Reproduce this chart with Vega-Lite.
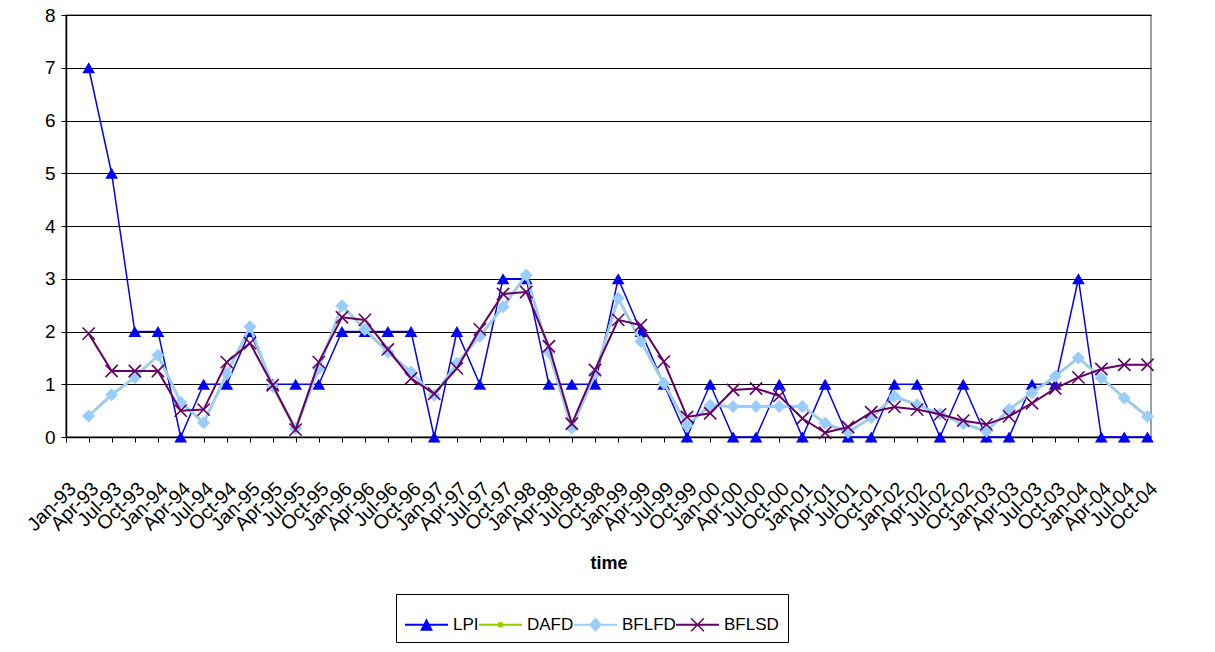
{
  "$schema": "https://vega.github.io/schema/vega-lite/v6.json",
  "width": 1085,
  "height": 422,
  "autosize": {"type": "none"},
  "padding": {"left": 66, "top": 15, "right": 64, "bottom": 215},
  "background": "white",
  "config": {
    "font": "Liberation Sans, Arial, sans-serif",
    "view": {"stroke": "#808080", "strokeWidth": 1.5},
    "axis": {
      "labelColor": "black",
      "titleColor": "black",
      "domainColor": "black",
      "tickColor": "black",
      "labelFont": "Liberation Sans, Arial, sans-serif",
      "titleFont": "Liberation Sans, Arial, sans-serif",
      "labelFontSize": 18
    }
  },
  "data": {
    "values": [
      {"time": "1993-04-01", "LPI": 7, "DAFD": 0.40, "BFLFD": 0.40, "BFLSD": 1.96},
      {"time": "1993-07-01", "LPI": 5, "DAFD": 0.80, "BFLFD": 0.80, "BFLSD": 1.25},
      {"time": "1993-10-01", "LPI": 2, "DAFD": 1.13, "BFLFD": 1.13, "BFLSD": 1.25},
      {"time": "1994-01-01", "LPI": 2, "DAFD": 1.55, "BFLFD": 1.55, "BFLSD": 1.25},
      {"time": "1994-04-01", "LPI": 0, "DAFD": 0.66, "BFLFD": 0.66, "BFLSD": 0.50},
      {"time": "1994-07-01", "LPI": 1, "DAFD": 0.27, "BFLFD": 0.27, "BFLSD": 0.52},
      {"time": "1994-10-01", "LPI": 1, "DAFD": 1.20, "BFLFD": 1.20, "BFLSD": 1.42},
      {"time": "1995-01-01", "LPI": 2, "DAFD": 2.09, "BFLFD": 2.09, "BFLSD": 1.78},
      {"time": "1995-04-01", "LPI": 1, "DAFD": 0.96, "BFLFD": 0.96, "BFLSD": 0.98},
      {"time": "1995-07-01", "LPI": 1, "DAFD": 0.16, "BFLFD": 0.16, "BFLSD": 0.14},
      {"time": "1995-10-01", "LPI": 1, "DAFD": 1.30, "BFLFD": 1.30, "BFLSD": 1.42},
      {"time": "1996-01-01", "LPI": 2, "DAFD": 2.49, "BFLFD": 2.49, "BFLSD": 2.27},
      {"time": "1996-04-01", "LPI": 2, "DAFD": 2.04, "BFLFD": 2.04, "BFLSD": 2.22},
      {"time": "1996-07-01", "LPI": 2, "DAFD": 1.61, "BFLFD": 1.61, "BFLSD": 1.66},
      {"time": "1996-10-01", "LPI": 2, "DAFD": 1.23, "BFLFD": 1.23, "BFLSD": 1.11},
      {"time": "1997-01-01", "LPI": 0, "DAFD": 0.79, "BFLFD": 0.79, "BFLSD": 0.82},
      {"time": "1997-04-01", "LPI": 2, "DAFD": 1.40, "BFLFD": 1.40, "BFLSD": 1.30},
      {"time": "1997-07-01", "LPI": 1, "DAFD": 1.91, "BFLFD": 1.91, "BFLSD": 2.04},
      {"time": "1997-10-01", "LPI": 3, "DAFD": 2.47, "BFLFD": 2.47, "BFLSD": 2.71},
      {"time": "1998-01-01", "LPI": 3, "DAFD": 3.07, "BFLFD": 3.07, "BFLSD": 2.75},
      {"time": "1998-04-01", "LPI": 1, "DAFD": 1.61, "BFLFD": 1.61, "BFLSD": 1.72},
      {"time": "1998-07-01", "LPI": 1, "DAFD": 0.17, "BFLFD": 0.17, "BFLSD": 0.25},
      {"time": "1998-10-01", "LPI": 1, "DAFD": 1.20, "BFLFD": 1.20, "BFLSD": 1.27},
      {"time": "1999-01-01", "LPI": 3, "DAFD": 2.63, "BFLFD": 2.63, "BFLSD": 2.22},
      {"time": "1999-04-01", "LPI": 2, "DAFD": 1.81, "BFLFD": 1.81, "BFLSD": 2.12},
      {"time": "1999-07-01", "LPI": 1, "DAFD": 1.02, "BFLFD": 1.02, "BFLSD": 1.43},
      {"time": "1999-10-01", "LPI": 0, "DAFD": 0.22, "BFLFD": 0.22, "BFLSD": 0.38},
      {"time": "2000-01-01", "LPI": 1, "DAFD": 0.60, "BFLFD": 0.60, "BFLSD": 0.45},
      {"time": "2000-04-01", "LPI": 0, "DAFD": 0.58, "BFLFD": 0.58, "BFLSD": 0.89},
      {"time": "2000-07-01", "LPI": 0, "DAFD": 0.58, "BFLFD": 0.58, "BFLSD": 0.92},
      {"time": "2000-10-01", "LPI": 1, "DAFD": 0.58, "BFLFD": 0.58, "BFLSD": 0.78},
      {"time": "2001-01-01", "LPI": 0, "DAFD": 0.58, "BFLFD": 0.58, "BFLSD": 0.35},
      {"time": "2001-04-01", "LPI": 1, "DAFD": 0.26, "BFLFD": 0.26, "BFLSD": 0.08},
      {"time": "2001-07-01", "LPI": 0, "DAFD": 0.09, "BFLFD": 0.09, "BFLSD": 0.19},
      {"time": "2001-10-01", "LPI": 0, "DAFD": 0.37, "BFLFD": 0.37, "BFLSD": 0.47},
      {"time": "2002-01-01", "LPI": 1, "DAFD": 0.77, "BFLFD": 0.77, "BFLSD": 0.57},
      {"time": "2002-04-01", "LPI": 1, "DAFD": 0.61, "BFLFD": 0.61, "BFLSD": 0.52},
      {"time": "2002-07-01", "LPI": 0, "DAFD": 0.44, "BFLFD": 0.44, "BFLSD": 0.43},
      {"time": "2002-10-01", "LPI": 1, "DAFD": 0.25, "BFLFD": 0.25, "BFLSD": 0.31},
      {"time": "2003-01-01", "LPI": 0, "DAFD": 0.11, "BFLFD": 0.11, "BFLSD": 0.24},
      {"time": "2003-04-01", "LPI": 0, "DAFD": 0.52, "BFLFD": 0.52, "BFLSD": 0.39},
      {"time": "2003-07-01", "LPI": 1, "DAFD": 0.84, "BFLFD": 0.84, "BFLSD": 0.64},
      {"time": "2003-10-01", "LPI": 1, "DAFD": 1.15, "BFLFD": 1.15, "BFLSD": 0.92},
      {"time": "2004-01-01", "LPI": 3, "DAFD": 1.50, "BFLFD": 1.50, "BFLSD": 1.13},
      {"time": "2004-04-01", "LPI": 0, "DAFD": 1.12, "BFLFD": 1.12, "BFLSD": 1.29},
      {"time": "2004-07-01", "LPI": 0, "DAFD": 0.74, "BFLFD": 0.74, "BFLSD": 1.37},
      {"time": "2004-10-01", "LPI": 0, "DAFD": 0.39, "BFLFD": 0.39, "BFLSD": 1.37}
    ]
  },
  "transform": [{"fold": ["LPI", "DAFD", "BFLFD", "BFLSD"], "as": ["series", "value"]}],
  "encoding": {
    "x": {
      "field": "time",
      "type": "temporal",
      "scale": {
        "type": "utc",
        "domain": [
          {"year": 1993, "month": 1, "date": 1, "utc": true},
          {"year": 2004, "month": 10, "date": 15, "utc": true}
        ]
      },
      "axis": {
        "labelExpr": "utcFormat(datum.value, '%b-%y')",
        "tickCount": {"interval": "month", "step": 3},
        "labelAngle": -45,
        "labelPadding": 37,
        "labelFontSize": 19.5,
        "labelOverlap": false,
        "labelFlush": false,
        "labelBound": false,
        "grid": false,
        "tickSize": 5,
        "domainWidth": 1.5,
        "title": "time",
        "titleFontWeight": "bold",
        "titleFontSize": 18,
        "titlePadding": 20
      }
    },
    "y": {
      "field": "value",
      "type": "quantitative",
      "scale": {"domain": [0, 8], "nice": false, "zero": true},
      "axis": {
        "values": [0, 1, 2, 3, 4, 5, 6, 7, 8],
        "grid": true,
        "gridColor": "black",
        "gridWidth": 1,
        "tickSize": 5,
        "labelPadding": 6,
        "labelFontSize": 19,
        "domainWidth": 1.5,
        "title": null
      }
    }
  },
  "layer": [
    {
      "transform": [{"filter": "false"}],
      "mark": {"type": "point", "filled": true, "opacity": 1},
      "encoding": {
        "color": {
          "field": "series",
          "type": "nominal",
          "scale": {"domain": ["LPI", "DAFD", "BFLFD", "BFLSD"], "range": ["#0000FF", "#99CC00", "#99CCFF", "#660066"]},
          "legend": {
            "orient": "none",
            "legendX": 330,
            "legendY": 579,
            "direction": "horizontal",
            "title": null,
            "strokeColor": "black",
            "fillColor": "white",
            "padding": 9,
            "labelFontSize": 17,
            "labelColor": "black",
            "labelOffset": 5,
            "columnPadding": 0,
            "symbolSize": 1849,
            "symbolStrokeWidth": 0,
            "symbolOpacity": 1
          }
        },
        "shape": {
          "field": "series",
          "type": "nominal",
          "scale": {
            "domain": ["LPI", "DAFD", "BFLFD", "BFLSD"],
            "range": [
              "M-1,-0.05H1V0.05H-1Z M-0.3,0.28L0,-0.3L0.3,0.28Z",
              "M-1,-0.05H1V0.05H-1Z M-0.12,-0.12H0.12V0.12H-0.12Z",
              "M-1,-0.05H1V0.05H-1Z M0,-0.34L0.3,0L0,0.34L-0.3,0Z",
              "M-1,-0.05H1V0.05H-1Z M-0.275,-0.325L0.325,0.275L0.275,0.325L-0.325,-0.275Z M-0.275,0.325L-0.325,0.275L0.275,-0.325L0.325,-0.275Z"
            ]
          }
        }
      }
    },
    {
      "transform": [{"filter": {"field": "series", "equal": "LPI"}}],
      "mark": {
        "type": "line",
        "color": "#0000FF",
        "strokeWidth": 1.5,
        "point": {"shape": "triangle-up", "filled": true, "color": "#0000FF", "size": 160, "opacity": 1}
      }
    },
    {
      "transform": [{"filter": {"field": "series", "equal": "DAFD"}}],
      "mark": {
        "type": "line",
        "color": "#99CC00",
        "strokeWidth": 2.5,
        "point": {"shape": "square", "filled": true, "color": "#99CC00", "size": 16, "opacity": 1}
      }
    },
    {
      "transform": [{"filter": {"field": "series", "equal": "BFLFD"}}],
      "mark": {
        "type": "line",
        "color": "#99CCFF",
        "strokeWidth": 2.5,
        "point": {"shape": "diamond", "filled": true, "color": "#99CCFF", "size": 170, "opacity": 1}
      }
    },
    {
      "transform": [{"filter": {"field": "series", "equal": "BFLSD"}}],
      "mark": {
        "type": "line",
        "color": "#660066",
        "strokeWidth": 2,
        "point": {"shape": "M-1,-1L1,1M-1,1L1,-1", "filled": false, "color": "#660066", "strokeWidth": 1.6, "size": 150, "opacity": 1}
      }
    }
  ]
}
